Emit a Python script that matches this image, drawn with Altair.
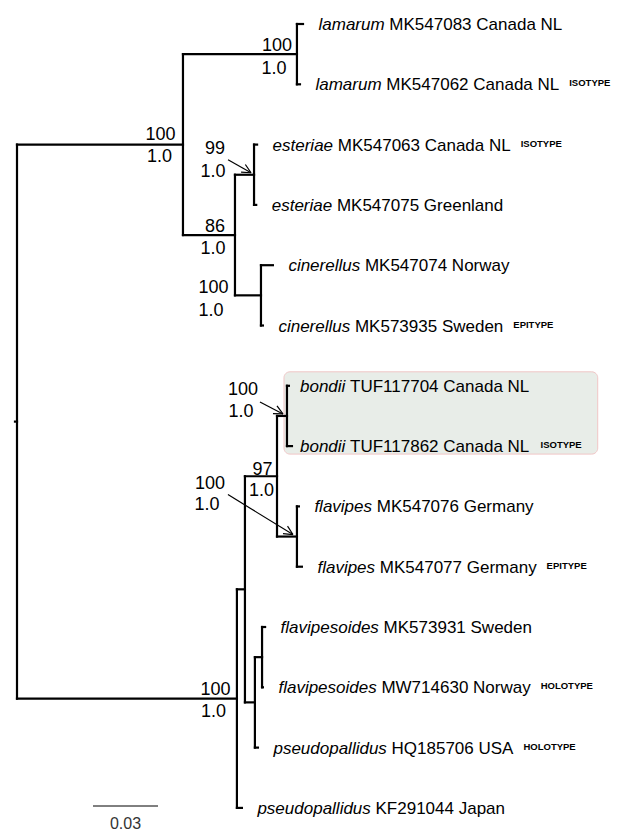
import math
import altair as alt
import pandas as pd

# ---------------- data ----------------
species = ["lamarum", "lamarum", "esteriae", "esteriae", "cinerellus", "cinerellus",
           "bondii", "bondii", "flavipes", "flavipes", "flavipesoides", "flavipesoides",
           "pseudopallidus", "pseudopallidus"]
accession = ["MK547083", "MK547062", "MK547063", "MK547075", "MK547074", "MK573935",
             "TUF117704", "TUF117862", "MK547076", "MK547077", "MK573931", "MW714630",
             "HQ185706", "KF291044"]
origin = ["Canada NL", "Canada NL", "Canada NL", "Greenland", "Norway", "Sweden",
          "Canada NL", "Canada NL", "Germany", "Germany", "Sweden", "Norway",
          "USA", "Japan"]
type_status = ["", "ISOTYPE", "ISOTYPE", "", "", "EPITYPE", "", "ISOTYPE", "", "EPITYPE",
               "", "HOLOTYPE", "HOLOTYPE", ""]
tip_parent = ["LAM", "LAM", "EST", "EST", "CIN", "CIN", "BON", "BON", "FLA", "FLA",
              "FLS", "FLS", "F", "C"]
tip_x = [0.1320, 0.1306, 0.1108, 0.1104, 0.1181, 0.1135, 0.1255, 0.1269, 0.1301, 0.1315,
         0.1145, 0.1135, 0.1112, 0.1038]

node_name = ["root", "A", "LAM", "B", "EST", "CIN", "C", "D", "E", "BON", "FLA", "F", "FLS"]
node_parent = ["", "root", "A", "A", "B", "B", "root", "C", "D", "E", "E", "D", "F"]
node_x = [0.0, 0.0766, 0.1292, 0.1006, 0.1094, 0.1126, 0.1015, 0.1052, 0.1200, 0.1246,
          0.1292, 0.1098, 0.1131]

support_node = ["LAM", "A", "EST", "B", "CIN", "BON", "E", "FLA", "C"]
bootstrap = ["100", "100", "99", "86", "100", "100", "97", "100", "100"]
posterior = ["1.0", "1.0", "1.0", "1.0", "1.0", "1.0", "1.0", "1.0", "1.0"]

highlight_species = "bondii"
scale_bar_length = 0.03
scale_bar_label = "0.03"

# ---------------- layout ----------------
FONT = "Liberation Sans, Arial, Helvetica, sans-serif"
W, H = 606, 823
PX = 2166.7          # pixels per substitution unit
ROW = 60.3           # pixels per tip
XMIN = -9 / PX
XMAX = XMIN + W / PX
YMIN = -16 / ROW
YMAX = YMIN + H / ROW
FS = 17              # tip label font size
SFS = 18             # support font size
SUPFS = 9.5          # type-status font size

AW = {' ': 278, '.': 278, 'a': 556, 'b': 556, 'c': 500, 'd': 556, 'e': 556, 'f': 278,
      'g': 556, 'h': 556, 'i': 222, 'j': 222, 'k': 500, 'l': 222, 'm': 833, 'n': 556,
      'o': 556, 'p': 556, 'q': 556, 'r': 333, 's': 500, 't': 278, 'u': 556, 'v': 500,
      'w': 722, 'x': 500, 'y': 500, 'z': 500, 'A': 667, 'B': 667, 'C': 722, 'D': 722,
      'E': 667, 'F': 611, 'G': 778, 'H': 722, 'I': 278, 'J': 500, 'K': 667, 'L': 556,
      'M': 833, 'N': 722, 'O': 778, 'P': 667, 'Q': 778, 'R': 722, 'S': 667, 'T': 611,
      'U': 722, 'V': 667, 'W': 944, 'X': 667, 'Y': 667, 'Z': 611}
AWB = dict(AW, L=611)


def text_px(s, size, bold=False):
    table = AWB if bold else AW
    return sum(table.get(ch, 556) for ch in s) * size / 1000.0


xs = alt.Scale(domain=[XMIN, XMAX], nice=False, zero=False)
ys = alt.Scale(domain=[YMIN, YMAX], nice=False, zero=False, reverse=True)

# ---- tree geometry from data ----
nx = dict(zip(node_name, node_x))
children = {n: [] for n in node_name}
for n, p in zip(node_name, node_parent):
    if p:
        children[p].append(("node", n))
for i, p in enumerate(tip_parent):
    children[p].append(("tip", i))

ny_cache = {}


def node_y(n):
    if n in ny_cache:
        return ny_cache[n]
    vals = [node_y(c) if k == "node" else float(c) for k, c in children[n]]
    ny_cache[n] = (min(vals) + max(vals)) / 2
    return ny_cache[n]


def child_y(k, c):
    return node_y(c) if k == "node" else float(c)


segs = []
for n, p in zip(node_name, node_parent):
    if p:
        segs.append(dict(x=nx[p], x2=nx[n], y=node_y(n), y2=node_y(n)))
    vals = [child_y(k, c) for k, c in children[n]]
    segs.append(dict(x=nx[n], x2=nx[n], y=min(vals), y2=max(vals)))
for i, p in enumerate(tip_parent):
    segs.append(dict(x=nx[p], x2=tip_x[i], y=float(i), y2=float(i)))
segs.append(dict(x=-2 / PX, x2=0.0, y=node_y("root"), y2=node_y("root")))
seg_df = pd.DataFrame(segs)

# ---- highlight box ----
hl = [i for i, s in enumerate(species) if s == highlight_species]
hl_parent = tip_parent[hl[0]]
box_left = nx[hl_parent] - 3 / PX
hl_label_x = box_left + 16 / PX

# ---- tip labels ----
rows_sp, rows_rest, rows_sup = [], [], []
label_end = {}
for i in range(len(species)):
    if i in hl:
        x0 = hl_label_x
    else:
        x0 = tip_x[i] + 15.5 / PX
    rest = f"{accession[i]} {origin[i]}"
    x1 = x0 + text_px(species[i] + " ", FS) / PX
    rows_sp.append(dict(x=x0, y=float(i), t=species[i]))
    rows_rest.append(dict(x=x1, y=float(i), t=rest))
    end = x1 + text_px(rest, FS) / PX
    if type_status[i]:
        x2 = end + 10 / PX
        rows_sup.append(dict(x=x2, y=float(i), t=type_status[i]))
        end = x2 + text_px(type_status[i], SUPFS, bold=True) / PX
    label_end[i] = end

box_right = max(label_end[i] for i in hl) + 16 / PX
box_df = pd.DataFrame([dict(x=box_left, x2=box_right,
                            y=min(hl) - 14 / ROW, y2=max(hl) + 8 / ROW)])

# ---- support labels (pixel offsets relative to node) ----
SUP_POS = {
    "LAM": (-20, -3, -23, 19.5),
    "A": (-22.5, -4.5, -23.5, 17.5),
    "B": (-20, -3, -22, 18.5),
    "E": (-14.5, -1.5, -15.5, 19.5),
    "C": (-21.5, -3.5, -23.5, 18.5),
    "CIN": (-47.5, -2.5, -50, 20.5),
    "EST": (-39, -20.5, -41, 2.5),
    "BON": (-44, -20.5, -46, 1.5),
    "FLA": (-87, -47.5, -90, -26.5),
}
ARROWS = {"EST": ((-26, -15), (-3, -2)),
          "BON": ((-27, -14), (-4, -2)),
          "FLA": ((-69, -42), (-4, -2))}

sup_rows = []
arrow_rows = []
for n, b, pp in zip(support_node, bootstrap, posterior):
    dxt, dyt, dxb, dyb = SUP_POS[n]
    x, y = nx[n], node_y(n)
    sup_rows.append(dict(x=x + dxt / PX, y=y + dyt / ROW, t=b))
    sup_rows.append(dict(x=x + dxb / PX, y=y + dyb / ROW, t=pp))
    if n in ARROWS:
        (sx, sy), (ex, ey) = ARROWS[n]
        arrow_rows.append(dict(x=x + sx / PX, y=y + sy / ROW, x2=x + ex / PX, y2=y + ey / ROW))
        ang = math.atan2(ey - sy, ex - sx)
        for da in (0.45, -0.45):
            hx = ex - 10 * math.cos(ang + da)
            hy = ey - 10 * math.sin(ang + da)
            arrow_rows.append(dict(x=x + hx / PX, y=y + hy / ROW, x2=x + ex / PX, y2=y + ey / ROW))
sup_df = pd.DataFrame(sup_rows)
arrow_df = pd.DataFrame(arrow_rows)

# ---- scale bar ----
sb_x0 = (93 - 17) / PX
sb_y = (806 - 24) / ROW
sb_df = pd.DataFrame([dict(x=sb_x0, x2=sb_x0 + scale_bar_length, y=sb_y, y2=sb_y)])
sb_txt = pd.DataFrame([dict(x=sb_x0 + scale_bar_length / 2, y=sb_y + 23 / ROW, t=scale_bar_label)])


def X(f="x"):
    return alt.X(f"{f}:Q", scale=xs, axis=None)


def Y(f="y"):
    return alt.Y(f"{f}:Q", scale=ys, axis=None)


box = alt.Chart(box_df).mark_rect(fill="#e8ede8", stroke="#f0c6c6", strokeWidth=1,
                                  cornerRadius=6).encode(
    x=X(), x2="x2:Q", y=Y(), y2="y2:Q")

tree = alt.Chart(seg_df).mark_rule(color="black", strokeWidth=2.2, strokeCap="square").encode(
    x=X(), x2="x2:Q", y=Y(), y2="y2:Q")

sp_txt = alt.Chart(pd.DataFrame(rows_sp)).mark_text(
    align="left", baseline="alphabetic", dy=6, font=FONT, fontSize=FS, fontStyle="italic",
    color="black").encode(x=X(), y=Y(), text="t:N")

rest_txt = alt.Chart(pd.DataFrame(rows_rest)).mark_text(
    align="left", baseline="alphabetic", dy=6, font=FONT, fontSize=FS,
    color="black").encode(x=X(), y=Y(), text="t:N")

sup_txt = alt.Chart(pd.DataFrame(rows_sup)).mark_text(
    align="left", baseline="alphabetic", dy=2, font=FONT, fontSize=SUPFS, fontWeight="bold",
    color="black").encode(x=X(), y=Y(), text="t:N")

support = alt.Chart(sup_df).mark_text(
    align="center", baseline="alphabetic", font=FONT, fontSize=SFS, color="black").encode(
    x=X(), y=Y(), text="t:N")

arrows = alt.Chart(arrow_df).mark_rule(color="black", strokeWidth=1.2).encode(
    x=X(), x2="x2:Q", y=Y(), y2="y2:Q")

sbar = alt.Chart(sb_df).mark_rule(color="black", strokeWidth=1).encode(
    x=X(), x2="x2:Q", y=Y(), y2="y2:Q")

sbar_t = alt.Chart(sb_txt).mark_text(
    align="center", baseline="alphabetic", font=FONT, fontSize=16, color="#333333").encode(
    x=X(), y=Y(), text="t:N")

chart = alt.layer(box, tree, arrows, sp_txt, rest_txt, sup_txt, support, sbar, sbar_t).properties(
    width=W, height=H, padding=0, autosize=alt.AutoSizeParams(type="none")
).configure_view(stroke=None)

chart.save("out.html", embed_options={"renderer": "svg", "actions": False})
